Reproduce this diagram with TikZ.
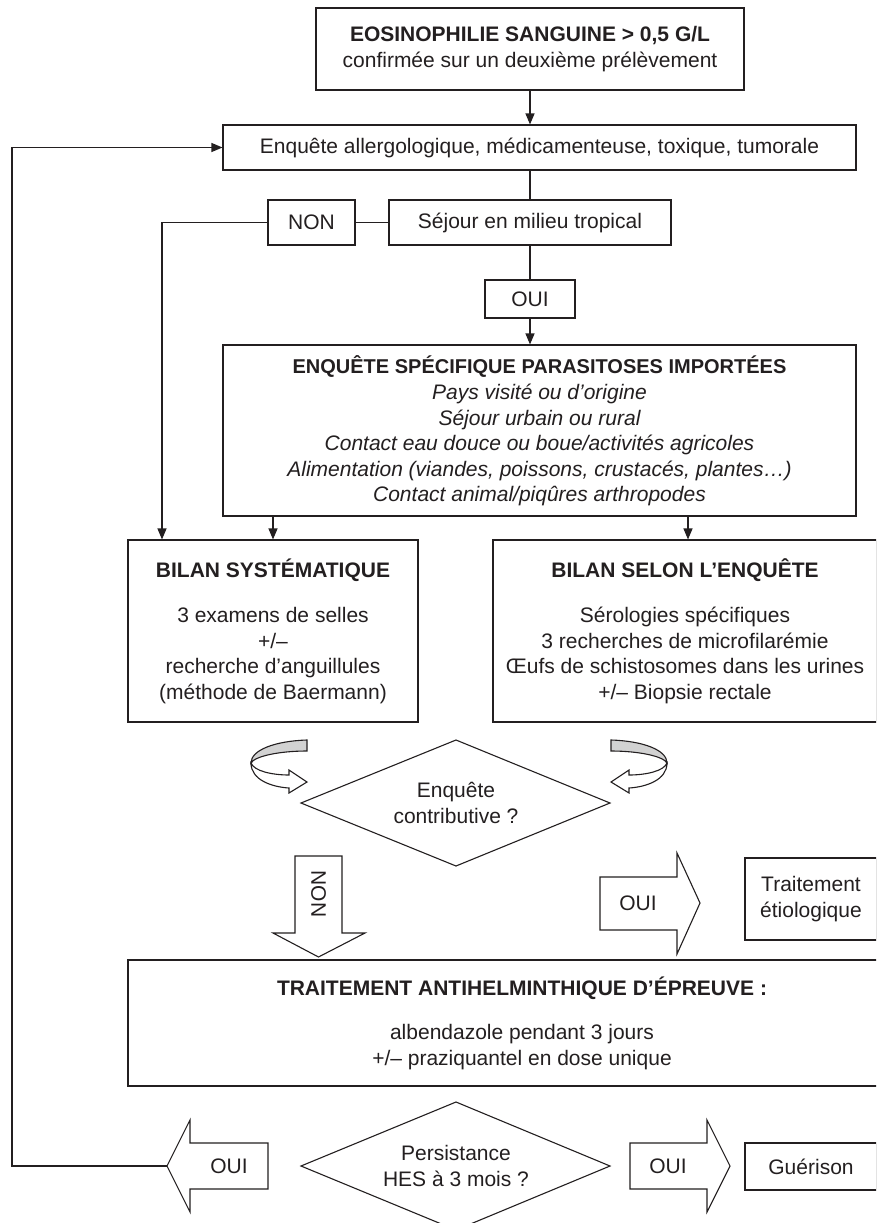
\documentclass[tikz,border=0pt]{standalone}
\usepackage{fontspec}
\setmainfont{Liberation Sans}
\usetikzlibrary{arrows.meta,calc}
\definecolor{ink}{HTML}{231F20}
\tikzset{
  box/.style={draw=ink, line width=1.1pt, inner sep=0pt, align=center, text=ink,
    font=\fontsize{21}{25.5}\selectfont},
  lbl/.style={inner sep=0pt, align=center, text=ink, font=\fontsize{21}{25.5}\selectfont},
  conn/.style={draw=ink, line width=1.1pt},
  arr/.style={conn, -{Triangle[length=11pt,width=9pt]}},
  fatarrow/.style={draw=ink, line width=1.1pt, fill=white, line join=miter},
  band/.style={draw=ink, line width=1.1pt, fill=gray!35},
}
\begin{document}
\begin{tikzpicture}[x=1pt,y=-1pt]
\useasboundingbox (0,0) rectangle (876,1223);
\clip (0,0) rectangle (876,1223);
\fill[white] (0,0) rectangle (876,1223);

% boxes
\node[box, minimum width=428, minimum height=82] (top) at (530,49)
  {\textbf{EOSINOPHILIE SANGUINE > 0,5 G/L}\\confirmée sur un deuxième prélèvement};
\node[box, minimum width=633, minimum height=45] (enq) at (539.5,147.5)
  {Enquête allergologique, médicamenteuse, toxique, tumorale};
\node[box, minimum width=282, minimum height=45] (sej) at (530,222.5)
  {Séjour en milieu tropical};
\node[box, minimum width=87, minimum height=45] (non) at (311.5,222.5) {NON};
\node[box, minimum width=90, minimum height=38] (oui) at (530,299) {OUI};
\node[box, minimum width=633, minimum height=171] (spec) at (539.5,430.5)
  {{\fontsize{20}{25.5}\selectfont\textbf{ENQUÊTE SPÉCIFIQUE PARASITOSES IMPORTÉES}}\\[1pt]
   \itshape Pays visité ou d’origine\\
   \itshape Séjour urbain ou rural\\
   \itshape Contact eau douce ou boue/activités agricoles\\
   \itshape Alimentation (viandes, poissons, crustacés, plantes…)\\
   \itshape Contact animal/piqûres arthropodes};
\node[box, minimum width=290, minimum height=182] (bsys) at (273,631)
  {\textbf{BILAN SYSTÉMATIQUE}\\[20pt]
   3 examens de selles\\ +/–\\ recherche d’anguillules\\ (méthode de Baermann)};
\node[box, minimum width=384, minimum height=182] (bsel) at (685,631)
  {\textbf{BILAN SELON L’ENQUÊTE}\\[20pt]
   Sérologies spécifiques\\ 3 recherches de microfilarémie\\
   Œufs de schistosomes dans les urines\\ +/– Biopsie rectale};
\node[box, minimum width=132, minimum height=82] (etio) at (811,899)
  {Traitement\\étiologique};
\node[box, minimum width=788, minimum height=126] (trait) at (522,1023)
  {\textbf{TRAITEMENT ANTIHELMINTHIQUE D’ÉPREUVE :}\\[19pt]
   albendazole pendant 3 jours\\ +/– praziquantel en dose unique};
\node[box, minimum width=132, minimum height=47] (guer) at (811,1166.5) {Guérison};

% diamonds
\draw[conn] (301,803) -- (456,740) -- (610,803) -- (456,866) -- cycle;
\node[lbl] (contrib) at (456,803) {Enquête\\contributive ?};
\draw[conn] (301,1166) -- (456,1102) -- (610,1166) -- (456,1230) -- cycle;
\node[lbl] (persist) at (456,1166) {Persistance\\HES à 3 mois ?};

% curved arrows (left)
\draw[band] (307,740) .. controls (275,741) and (251,750) .. (251,763)
  .. controls (255,756) and (280,751) .. (307,751) -- cycle;
\draw[fatarrow] (251,763) .. controls (251,780) and (272,787) .. (289,788)
  -- (289,793) -- (307,782) -- (289,770) -- (289,775)
  .. controls (272,775) and (254,771) .. (251,763) -- cycle;
% curved arrows (right)
\draw[band] (611,740) .. controls (643,741) and (667,750) .. (667,763)
  .. controls (663,756) and (638,751) .. (611,751) -- cycle;
\draw[fatarrow] (667,763) .. controls (667,780) and (646,787) .. (629,788)
  -- (629,793) -- (611,782) -- (629,770) -- (629,775)
  .. controls (646,775) and (664,771) .. (667,763) -- cycle;

% block arrows
\draw[fatarrow] (295,856) -- (342,856) -- (342,933) -- (365,933) -- (318.5,957)
  -- (273,933) -- (295,933) -- cycle;
\node[lbl, rotate=-90] (nonarr) at (318.5,894) {NON};
\draw[fatarrow] (600,877) -- (677,877) -- (677,853) -- (700,903) -- (677,954)
  -- (677,930) -- (600,930) -- cycle;
\node[lbl] (ouiarr) at (638,903) {OUI};
\draw[fatarrow] (268,1143) -- (190,1143) -- (190,1120) -- (167,1166) -- (190,1212)
  -- (190,1189) -- (268,1189) -- cycle;
\node[lbl] (ouiL) at (229,1166) {OUI};
\coordinate (ouiLtip) at (167,1166);
\draw[fatarrow] (630,1143) -- (707,1143) -- (707,1120) -- (730,1166) -- (707,1212)
  -- (707,1189) -- (630,1189) -- cycle;
\node[lbl] (ouiR) at (668,1166) {OUI};

% connectors
\draw[arr] (top.south) -- (top.south |- enq.north);
\draw[conn] (enq.south -| sej.north) -- (sej.north);
\draw[conn] (non.east) -- (sej.west);
\draw[conn] (sej.south) -- (oui.north);
\draw[arr] (oui.south) -- (oui.south |- spec.north);
\coordinate (nonturn) at (162,222.5);
\draw[arr] (non.west) -- (nonturn) -- (nonturn |- bsys.north);
\draw[arr] (spec.south -| bsys.north) -- (bsys.north);
\draw[arr] (spec.south -| 688,0) -- (bsel.north -| 688,0);
\coordinate (loop) at (12,1166);
\draw[arr] (ouiLtip) -- (loop) |- (enq.west);
\end{tikzpicture}
\end{document}
